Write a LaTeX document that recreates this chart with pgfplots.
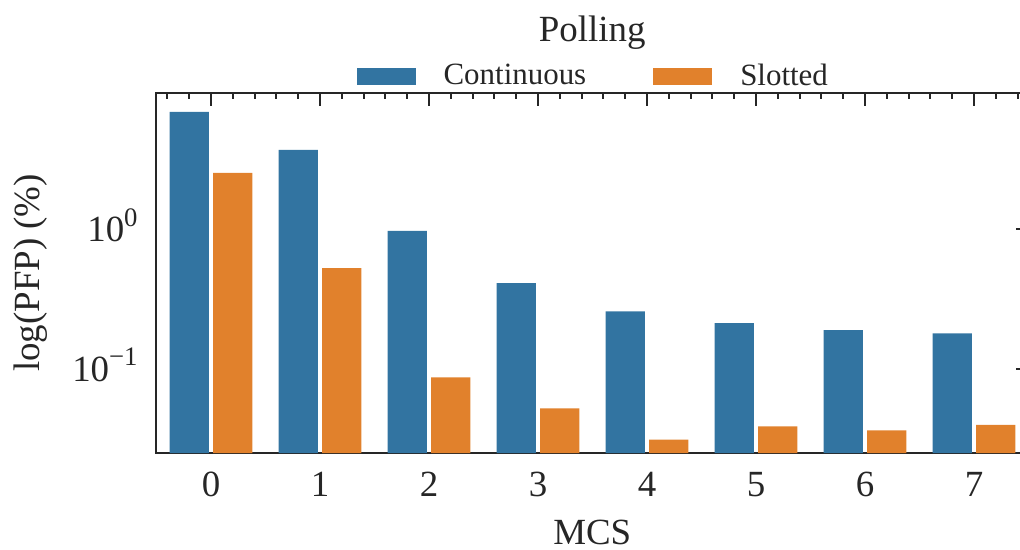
\documentclass[border=0pt]{standalone}
\usepackage{pgfplots}
\pgfplotsset{compat=1.18}
\usepackage{fontspec}
\setmainfont{Liberation Serif}
\definecolor{cblue}{HTML}{3274A1}
\definecolor{corange}{HTML}{E1812C}
\definecolor{axgray}{HTML}{262626}
\newcommand{\lbl}{\fontsize{10.5}{12}\selectfont}
\newcommand{\sups}[1]{\raisebox{0.42em}{\fontsize{7.6}{8}\selectfont #1}}
\begin{document}
\begin{tikzpicture}
\begin{axis}[
  at={(0,0)}, anchor=south west,
  scale only axis, width=87.25mm, height=36mm,
  xmin=-0.505, xmax=7.5,
  ymode=log, ymin=0.0248, ymax=9.5, log origin=infty,
  ybar, bar width=0.36,
  /pgf/number format/assume math mode=true,
  axis line style={axgray, line width=0.6pt},
  every tick/.style={axgray, line width=0.6pt},
  tick align=inside,
  major tick length=1.3mm, minor tick length=0.6mm,
  xtick={0,1,2,3,4,5,6,7},
  minor xtick={-0.4,-0.2,0.2,0.4,0.6,0.8,1.2,1.4,1.6,1.8,2.2,2.4,2.6,2.8,3.2,3.4,3.6,3.8,4.2,4.4,4.6,4.8,5.2,5.4,5.6,5.8,6.2,6.4,6.6,6.8,7.2,7.4},
  xtick pos=right, xticklabel pos=left,
  ytick pos=right, yticklabel pos=left,
  yminorticks=false,
  ytick={0.1,1},
  yticklabels={10\sups{\char"2212 1},10\sups{0}},
  xticklabel style={font=\lbl, text=axgray, yshift=-0.7mm},
  yticklabel style={font=\lbl, text=axgray, anchor=base east, yshift=-1.25mm, xshift=-0.6mm},
  xlabel={MCS},
  xlabel style={at={(axis description cs:0.5,-0.255)}, anchor=base, font=\lbl, text=axgray},
  ylabel={log(PFP) (\%)},
  ylabel style={at={(axis description cs:-0.133,0.5)}, anchor=base, rotate=0, font=\lbl, text=axgray},
  every axis title shift=0pt,
  title={Polling},
  title style={at={(axis description cs:0.5,1)}, anchor=base, yshift=5.2mm, font=\lbl, text=axgray},
  legend columns=2,
  legend style={at={(axis description cs:0.5,1)}, anchor=south, yshift=0.2mm,
    draw=none, fill=none, inner sep=0pt, font=\fontsize{8.8}{10}\selectfont, text=axgray,
    nodes={inner sep=0pt}, cells={anchor=west},
    /tikz/every even column/.append style={column sep=6.7mm}},
  legend image code/.code={\fill[#1] (0mm,-0.85mm) rectangle (5.9mm,0.85mm); \path[draw=none,fill=none] (0mm,0mm) rectangle (8.7mm,0mm);},
]
\addplot[fill=cblue, draw=none, bar shift=-0.2] coordinates {
  (0,6.95) (1,3.72) (2,0.972) (3,0.411) (4,0.258) (5,0.212) (6,0.189) (7,0.179)};
\addlegendentry{Continuous}
\addplot[fill=corange, draw=none, bar shift=0.2] coordinates {
  (0,2.54) (1,0.527) (2,0.0866) (3,0.0518) (4,0.031) (5,0.0385) (6,0.036) (7,0.0395)};
\addlegendentry{Slotted}
\end{axis}
\pgfresetboundingbox
\path (-15.6mm,-9.6mm) rectangle (86.4mm,45.3mm);
\end{tikzpicture}
\end{document}
